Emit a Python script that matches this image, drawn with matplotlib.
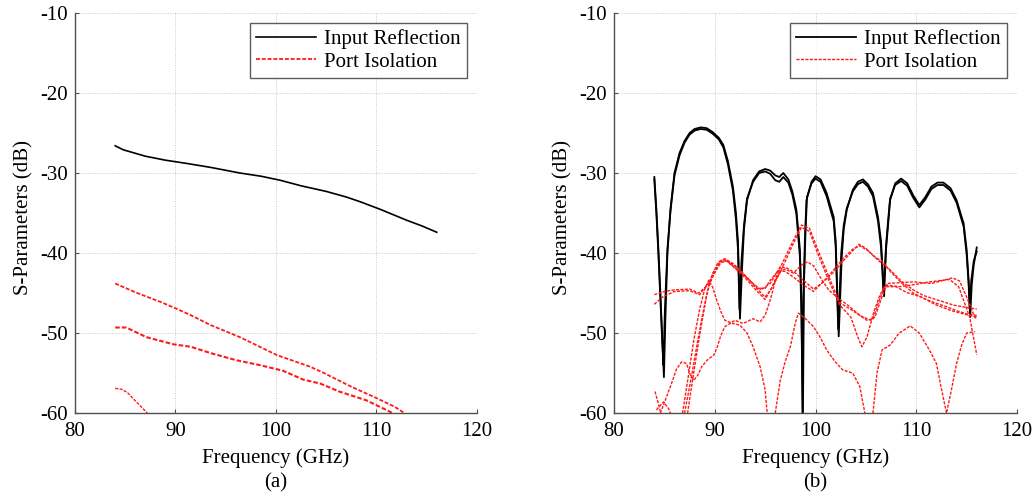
import matplotlib
matplotlib.use("Agg")
import matplotlib.pyplot as plt

plt.rcParams['font.family'] = ['Liberation Serif', 'DejaVu Serif']
plt.rcParams['font.size'] = 15
plt.rcParams['axes.unicode_minus'] = False

# ---------------- (a) data ----------------
a_s11_f = [84.0, 84.8, 87.0, 89.0, 91.1, 93.5, 96.4, 98.5, 100.4, 102.5, 105.0, 107.0, 108.4, 110.5, 113.0, 114.5, 116.0]
a_s11_db = [-26.6, -27.1, -27.9, -28.4, -28.8, -29.3, -30.0, -30.4, -30.9, -31.6, -32.3, -33.0, -33.6, -34.6, -35.9, -36.6, -37.4]

a_iso1_f = [84.0, 86.0, 88.5, 90.0, 91.5, 93.5, 96.4, 100.1, 103.4, 104.8, 107.5, 109.8, 111.8, 112.8]
a_iso1_db = [-43.8, -44.9, -46.1, -46.9, -47.75, -49.0, -50.5, -52.75, -54.2, -55.0, -56.7, -58.0, -59.2, -60.0]

a_iso2_f = [84.0, 85.1, 87.1, 89.8, 91.5, 93.5, 96.1, 98.4, 100.7, 102.7, 104.4, 106.3, 109.0, 111.3, 111.6]
a_iso2_db = [-49.3, -49.3, -50.5, -51.4, -51.7, -52.5, -53.4, -54.0, -54.7, -55.8, -56.3, -57.3, -58.4, -59.8, -60.0]

a_iso3_f = [84.0, 84.6, 85.2, 85.8, 86.5, 87.2]
a_iso3_db = [-56.9, -57.0, -57.4, -58.2, -59.1, -60.0]

# ---------------- (b) data ----------------
b_s11a_f = [84.0, 84.2, 84.4, 84.6, 84.8, 84.95, 85.1, 85.3, 85.6, 86.0, 86.5, 87.0, 87.5, 88.0, 88.6,
            89.2, 89.8, 90.4, 90.85, 91.3, 91.8, 92.1, 92.3, 92.5, 92.7, 92.9, 93.2, 93.8, 94.4, 95.0, 95.5,
            96.0, 96.4, 96.8, 97.3, 97.7, 98.1, 98.45, 98.6, 98.7, 98.8, 98.95, 99.1, 99.6, 100.0, 100.5,
            101.1, 101.8, 102.0, 102.3, 102.6, 102.8, 103.1, 103.7, 104.2, 104.7, 105.2, 105.7, 106.2, 106.5, 106.8,
            107.0, 107.2, 107.4, 107.9, 108.5, 109.1, 109.7, 110.3, 110.9, 111.5, 112.1, 112.7, 113.4, 114.0, 114.7,
            115.0, 115.2, 115.35, 115.5, 115.7, 116.0]
b_s11a_db = [-30.5, -34.5, -39.5, -45.0, -51.0, -55.5, -48.0, -40.0, -34.5, -30.0, -27.5, -26.0, -25.0, -24.5, -24.3,
             -24.4, -24.9, -25.6, -26.5, -28.5, -31.7, -35.0, -38.5, -48.2, -42.0, -37.0, -33.4, -30.9, -29.8, -29.5, -29.7,
             -30.3, -30.5, -30.0, -30.8, -32.3, -34.6, -39.6, -46.0, -60.0, -45.0, -38.0, -33.4, -31.1, -30.4, -30.8,
             -32.5, -35.5, -38.5, -50.4, -40.5, -37.0, -34.6, -32.1, -31.1, -30.8, -31.4, -32.5, -35.5, -38.5, -45.4,
             -39.5, -36.5, -33.4, -31.3, -30.7, -31.3, -32.8, -34.0, -33.0, -31.7, -31.2, -31.2, -31.9, -33.4, -36.3,
             -39.6, -43.5, -48.0, -44.0, -41.5, -39.3]

b_s11b_f = [84.0, 84.2, 84.4, 84.6, 84.8, 84.9, 85.05, 85.3, 85.6, 86.0, 86.5, 87.0, 87.5, 88.0, 88.6,
            89.2, 89.8, 90.4, 90.85, 91.3, 91.8, 92.1, 92.3, 92.45, 92.65, 92.9, 93.2, 93.8, 94.4, 95.0, 95.5,
            96.0, 96.4, 96.8, 97.3, 97.7, 98.1, 98.45, 98.6, 98.75, 98.85, 99.0, 99.15, 99.6, 100.0, 100.5,
            101.1, 101.8, 102.0, 102.25, 102.55, 102.8, 103.1, 103.7, 104.2, 104.7, 105.2, 105.7, 106.2, 106.5, 106.75,
            107.0, 107.2, 107.4, 107.9, 108.5, 109.1, 109.7, 110.3, 110.9, 111.5, 112.1, 112.7, 113.4, 114.0, 114.7,
            115.0, 115.2, 115.3, 115.45, 115.7, 116.0]
b_s11b_db = [-30.8, -35.0, -40.0, -45.8, -51.5, -54.0, -47.0, -39.5, -34.8, -30.3, -27.8, -26.2, -25.2, -24.7, -24.5,
             -24.6, -25.1, -25.8, -26.8, -28.9, -32.2, -35.8, -39.5, -47.0, -41.0, -36.5, -33.2, -31.1, -30.0, -29.8, -30.1,
             -30.9, -31.1, -30.5, -31.2, -32.7, -35.1, -40.5, -47.5, -60.0, -44.0, -37.5, -33.0, -31.3, -30.7, -31.1,
             -32.9, -36.0, -39.2, -49.5, -40.0, -36.5, -34.4, -32.3, -31.4, -31.1, -31.7, -32.9, -36.0, -39.3, -45.0,
             -39.0, -36.0, -33.2, -31.5, -31.0, -31.6, -33.1, -34.3, -33.3, -32.0, -31.5, -31.5, -32.2, -33.7, -36.7,
             -40.2, -44.0, -47.0, -43.5, -41.0, -39.8]

b_iso1_f = [84.0, 85.0, 86.0, 87.5, 88.4, 89.5, 90.5, 91.0, 91.8, 92.8, 94.0, 95.0, 95.6, 96.5, 97.8, 98.6, 99.4,
            100.2, 101.1, 102.4, 103.7, 105.1, 105.7, 106.3, 106.9, 108.4, 110.0, 111.3, 113.3, 114.2, 115.3, 116.0]
b_iso1_db = [-45.2, -44.8, -44.6, -44.5, -45.0, -43.8, -41.0, -40.7, -41.3, -42.5, -44.2, -45.5, -44.5, -41.8, -38.4, -36.5, -36.9,
             -39.5, -42.3, -46.2, -47.2, -48.4, -48.2, -46.0, -44.0, -44.2, -43.9, -43.6, -43.3, -44.2, -48.0, -52.7]

b_iso2_f = [84.0, 84.8, 86.0, 87.5, 88.5, 89.5, 90.6, 91.2, 92.8, 94.0, 95.0, 96.5, 97.8, 98.6, 99.4, 100.2,
            101.1, 102.4, 103.5, 104.2, 104.6, 105.1, 105.8, 106.4, 107.1, 109.7, 111.5, 113.6, 114.3, 115.0, 115.8, 116.0]
b_iso2_db = [-46.4, -45.5, -44.8, -44.7, -45.2, -43.5, -41.2, -41.0, -42.8, -44.5, -45.8, -42.4, -38.8, -36.8, -37.3, -40.0,
             -42.8, -46.5, -48.0, -50.5, -51.7, -50.5, -47.3, -45.2, -43.8, -43.6, -43.8, -43.1, -43.5, -45.5, -48.0, -48.3]

b_iso3_f = [87.0, 87.6, 88.3, 88.9, 89.5, 90.3, 91.0, 92.0, 93.0, 94.2, 95.0, 95.5, 96.3, 97.0, 97.8, 98.8, 99.8,
            100.8, 101.8, 102.8, 103.7, 104.3, 105.0, 105.7, 106.4, 107.4, 108.5, 109.7, 110.7, 111.7, 112.7, 113.7, 115.0, 116.0]
b_iso3_db = [-60.0, -56.0, -51.0, -47.0, -43.5, -41.2, -40.8, -41.6, -42.8, -44.4, -44.4, -43.4, -42.2, -42.3, -43.0, -44.0, -44.8,
             -43.5, -42.4, -40.9, -39.7, -38.9, -39.4, -40.3, -41.1, -42.1, -43.5, -44.6, -45.3, -45.7, -46.1, -46.5, -46.8, -47.0]

b_iso4_f = [87.3, 87.9, 88.6, 89.2, 89.8, 90.6, 91.2, 92.5, 93.8, 94.6, 95.5, 96.5, 97.2, 98.0, 98.8, 99.8, 100.8,
            101.8, 102.8, 103.7, 104.4, 105.2, 106.0, 106.6, 107.5, 108.6, 109.7, 110.8, 111.8, 113.0, 114.0, 115.0, 116.0]
b_iso4_db = [-60.0, -55.0, -49.5, -45.2, -42.5, -41.0, -41.0, -42.3, -43.8, -44.6, -43.8, -41.7, -41.9, -42.5, -43.4, -44.5, -43.6,
             -42.1, -40.6, -39.5, -39.1, -39.7, -40.6, -41.0, -42.4, -43.8, -45.0, -45.7, -46.2, -46.7, -47.2, -47.6, -47.8]

b_iso5_f = [84.6, 85.2, 85.7, 86.2, 86.7, 87.2, 87.5, 87.9, 88.3, 88.7, 89.3, 89.9, 90.2, 90.6, 91.0, 92.0, 92.8,
            93.8, 94.5, 95.0, 95.5, 96.0, 96.5, 97.0, 97.8, 98.6, 99.2, 99.8, 100.6, 101.3, 102.2, 103.2, 104.4,
            105.5, 105.9, 106.5, 107.0, 108.0, 109.0, 110.5, 112.0, 113.5, 115.0, 116.0]
b_iso5_db = [-60.0, -58.0, -56.3, -54.5, -53.6, -53.8, -55.0, -55.9, -55.3, -54.2, -53.3, -52.75, -51.9, -50.3, -49.2, -48.4, -48.8,
             -48.2, -48.6, -47.75, -45.9, -43.5, -42.3, -42.0, -42.5, -41.5, -41.1, -41.6, -43.3, -44.6, -45.6, -46.5, -47.8,
             -48.4, -48.0, -45.8, -44.2, -44.2, -44.9, -45.5, -46.5, -47.2, -47.7, -48.0]

b_iso6_f = [86.8, 87.3, 87.9, 88.5, 89.0, 89.4, 89.8, 90.2, 90.6, 91.0, 91.8, 92.5, 93.2, 93.8, 94.5, 95.0, 95.2]
b_iso6_db = [-60.0, -56.0, -51.0, -47.0, -44.5, -43.4, -44.3, -45.9, -47.3, -48.4, -48.8, -49.0, -50.0, -51.7, -54.2, -57.1, -60.0]

b_iso7_f = [96.0, 96.5, 97.0, 97.5, 98.0, 98.3, 99.0, 99.8, 100.5, 101.1, 101.9, 102.7, 103.7, 104.4, 104.9]
b_iso7_db = [-60.0, -55.9, -53.5, -51.7, -48.7, -47.5, -48.2, -49.2, -50.6, -52.1, -53.5, -54.6, -55.0, -56.7, -60.0]

b_iso8_f = [105.7, 106.1, 106.6, 107.4, 108.3, 109.4, 110.3, 111.3, 112.0, 112.5, 113.0, 113.5, 114.0, 114.5, 115.0, 115.8]
b_iso8_db = [-60.0, -55.0, -52.1, -51.5, -50.0, -49.1, -50.0, -52.1, -53.8, -57.0, -60.0, -57.0, -53.8, -51.5, -50.0, -49.8]

b_iso9_f = [84.07, 84.4, 84.6]
b_iso9_db = [-57.3, -58.8, -59.8]

b_iso10_f = [84.2, 84.9, 85.4, 85.6]
b_iso10_db = [-59.6, -58.6, -59.4, -60.0]

xticks = [80, 90, 100, 110, 120]
yticks = [-60, -50, -40, -30, -20, -10]

RED = '#ff1a1a'
DASH = (0, (2.2, 1.0))
FS = 15

fig = plt.figure(figsize=(10.36, 4.96), dpi=100)
ax1 = fig.add_axes([0.0724, 0.167, 0.388, 0.807])
ax2 = fig.add_axes([0.5927, 0.167, 0.389, 0.807])


def style(ax, tag):
    ax.set_xlim(80, 120)
    ax.set_ylim(-60, -10)
    ax.set_xticks(xticks)
    ax.set_yticks(yticks)
    ax.grid(True, color='#c8c8c8', linestyle=(0, (1, 1.5)), linewidth=0.7)
    ax.set_axisbelow(True)
    for s in ['top', 'right']:
        ax.spines[s].set_visible(False)
    for s in ['left', 'bottom']:
        ax.spines[s].set_color('#505050')
        ax.spines[s].set_linewidth(1.0)
    ax.tick_params(direction='in', length=3, width=0.8, colors='#505050',
                   labelcolor='black', labelsize=FS)
    ax.tick_params(axis='x', pad=6)
    ax.tick_params(axis='y', pad=5)
    ax.set_xlabel('Frequency (GHz)', fontsize=FS)
    ax.xaxis.set_label_coords(0.5, -0.112)
    ax.xaxis.label.set_va('center')
    ax.set_ylabel('S-Parameters (dB)', fontsize=FS)
    ax.yaxis.set_label_coords(-0.128, 0.49)
    ax.yaxis.label.set_va('center')
    ax.text(0.5, -0.175, tag, transform=ax.transAxes, ha='center', va='center', fontsize=FS)


def legend(ax):
    leg = ax.legend(loc='upper right', frameon=True, fancybox=False, fontsize=FS,
                    handlelength=2.9, handletextpad=0.35, borderpad=0.3,
                    labelspacing=0.12, borderaxespad=0.5)
    leg.get_frame().set_edgecolor('#333333')
    leg.get_frame().set_linewidth(1.0)


# (a)
ax1.plot(a_s11_f, a_s11_db, color='black', lw=1.2, label='Input Reflection')
ax1.plot(a_iso1_f, a_iso1_db, color=RED, lw=1.3, ls=DASH, label='Port Isolation')
ax1.plot(a_iso2_f, a_iso2_db, color=RED, lw=1.5, ls=DASH)
ax1.plot(a_iso3_f, a_iso3_db, color=RED, lw=1.0, ls=DASH)
style(ax1, '(a)')
legend(ax1)

# (b)
ax2.plot(b_s11a_f, b_s11a_db, color='black', lw=1.3, label='Input Reflection')
ax2.plot(b_s11b_f, b_s11b_db, color='black', lw=1.3)
ax2.plot(b_iso1_f, b_iso1_db, color=RED, lw=1.0, ls=DASH, label='Port Isolation')
for f, d in [(b_iso2_f, b_iso2_db), (b_iso3_f, b_iso3_db), (b_iso4_f, b_iso4_db),
             (b_iso5_f, b_iso5_db), (b_iso6_f, b_iso6_db), (b_iso7_f, b_iso7_db),
             (b_iso8_f, b_iso8_db), (b_iso9_f, b_iso9_db), (b_iso10_f, b_iso10_db)]:
    ax2.plot(f, d, color=RED, lw=1.0, ls=DASH)
style(ax2, '(b)')
legend(ax2)

fig.savefig('out.png', dpi=100)
